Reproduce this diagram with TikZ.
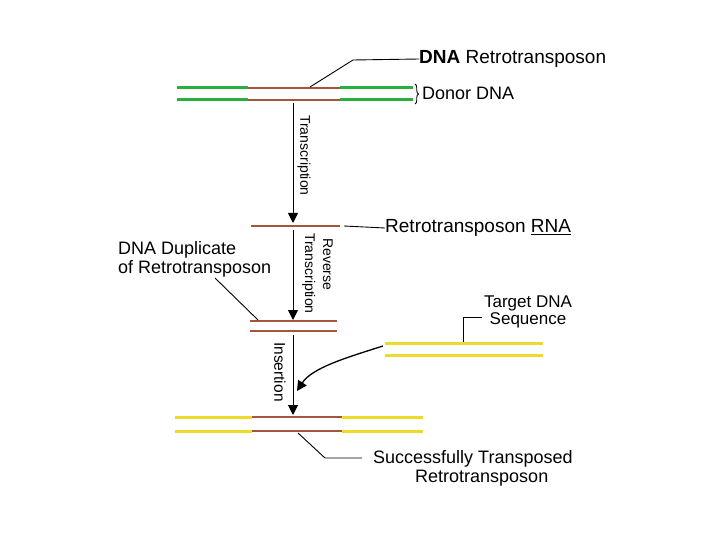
\documentclass[tikz,border=0pt]{standalone}
\usepackage{fontspec}
\setmainfont{Liberation Sans}
\usetikzlibrary{arrows.meta,decorations.pathreplacing}
\definecolor{dnagreen}{RGB}{40,175,60}
\definecolor{dnayellow}{RGB}{238,218,40}
\definecolor{rnabrown}{RGB}{165,85,60}
\tikzset{
  gstrand/.style={draw=dnagreen,line width=3pt},
  ystrand/.style={draw=dnayellow,line width=3pt},
  bstrand/.style={draw=rnabrown,line width=1.4pt},
  leader/.style={draw=black,line width=0.9pt},
  flow/.style={draw=black,line width=1pt,-{Triangle[width=10pt,length=10pt]}},
  lbl/.style={inner sep=0pt,font=\fontsize{18}{19}\selectfont},
  rlbl/.style={inner sep=0pt,rotate=-90}
}
\begin{document}
\begin{tikzpicture}[x=1pt,y=-1pt]
\useasboundingbox[fill=white] (0,0) rectangle (720,540);

% ---- Donor DNA ----
\coordinate (d1a) at (177,88); \coordinate (d1b) at (248,88);
\coordinate (d1c) at (340,88); \coordinate (d1d) at (413,88);
\coordinate (d2a) at (177,100); \coordinate (d2b) at (248,100);
\coordinate (d2c) at (340,100); \coordinate (d2d) at (413,100);
\draw[gstrand] (d1a) -- (d1b); \draw[bstrand] (d1b) -- (d1c); \draw[gstrand] (d1c) -- (d1d);
\draw[gstrand] (d2a) -- (d2b); \draw[bstrand] (d2b) -- (d2c); \draw[gstrand] (d2c) -- (d2d);
\draw[leader,decorate,decoration={brace,amplitude=3.5pt}] (415,84) -- (415,104);
\node[lbl,anchor=west] (donor) at (422,93) {Donor DNA};
\node[lbl,anchor=west,font=\fontsize{19}{20}\selectfont] (retro) at (419,59) {\textbf{DNA} Retrotransposon};
\coordinate (r1) at (310,87);
\draw[leader] (r1) -- (353,60) -- (retro.west);

% ---- Transcription ----
\coordinate (t0) at (293,103); \coordinate (t1) at (293,223);
\draw[flow] (t0) -- (t1);
\node[rlbl,anchor=west,font=\fontsize{14}{15}\selectfont] (tlab) at (304,115) {Transcription};

% ---- RNA ----
\coordinate (ra) at (251,226); \coordinate (rb) at (340,226);
\draw[bstrand] (ra) -- (rb);
\node[lbl,anchor=west,font=\fontsize{19}{20}\selectfont] (rnalab) at (385,228) {Retrotransposon \underline{RNA}};
\coordinate (rl) at (344,226);
\draw[leader] (rl) -- (rnalab.west);

% ---- Reverse transcription ----
\coordinate (v0) at (293,230); \coordinate (v1) at (293,320);
\draw[flow] (v0) -- (v1);
\node[rlbl,anchor=north west,align=left,font=\fontsize{14}{18}\selectfont] (rtlab) at (333,233) {\hspace*{5pt}Reverse\\Transcription};

% ---- DNA duplicate ----
\coordinate (u1a) at (250,321); \coordinate (u1b) at (337,321);
\coordinate (u2a) at (250,331); \coordinate (u2b) at (337,331);
\draw[bstrand] (u1a) -- (u1b);
\draw[bstrand] (u2a) -- (u2b);
\node[lbl,anchor=north west,align=left] (duplab) at (118,241) {DNA Duplicate\\of Retrotransposon};
\coordinate (dl) at (215,278); \coordinate (dr) at (258,320);
\draw[leader] (dl) -- (dr);

% ---- Insertion ----
\coordinate (i0) at (293,335); \coordinate (i1) at (293,415);
\draw[flow] (i0) -- (i1);
\node[rlbl,anchor=west,font=\fontsize{15.5}{17}\selectfont] (ilab) at (280,342) {Insertion};

% ---- Target DNA ----
\coordinate (g1a) at (385,343); \coordinate (g1b) at (543,343);
\coordinate (g2a) at (385,355); \coordinate (g2b) at (543,355);
\draw[ystrand] (g1a) -- (g1b);
\draw[ystrand] (g2a) -- (g2b);
\node[lbl,align=center,font=\fontsize{17}{15}\selectfont] (targ) at (528,312) {Target DNA\\Sequence};
\coordinate (gl) at (463,342);
\draw[leader] (gl) -- (463,317) -- (482,317);
\coordinate (ca) at (383,346); \coordinate (cb) at (297,391);
\draw[flow,line width=1.3pt] (ca) .. controls (345,358) and (312,368) .. (cb);

% ---- Final ----
\coordinate (f1a) at (175,417); \coordinate (f1b) at (252,417);
\coordinate (f1c) at (342,417); \coordinate (f1d) at (423,417);
\coordinate (f2a) at (175,431); \coordinate (f2b) at (252,431);
\coordinate (f2c) at (342,431); \coordinate (f2d) at (423,431);
\draw[ystrand] (f1a) -- (f1b); \draw[bstrand] (f1b) -- (f1c); \draw[ystrand] (f1c) -- (f1d);
\draw[ystrand] (f2a) -- (f2b); \draw[bstrand] (f2b) -- (f2c); \draw[ystrand] (f2c) -- (f2d);
\node[lbl,anchor=north west,align=left] (final) at (373,450) {Successfully Transposed\\\hspace*{42pt}Retrotransposon};
\coordinate (fl) at (298,433);
\draw[leader] (fl) -- (325,458) -- (362,458);
\end{tikzpicture}
\end{document}
